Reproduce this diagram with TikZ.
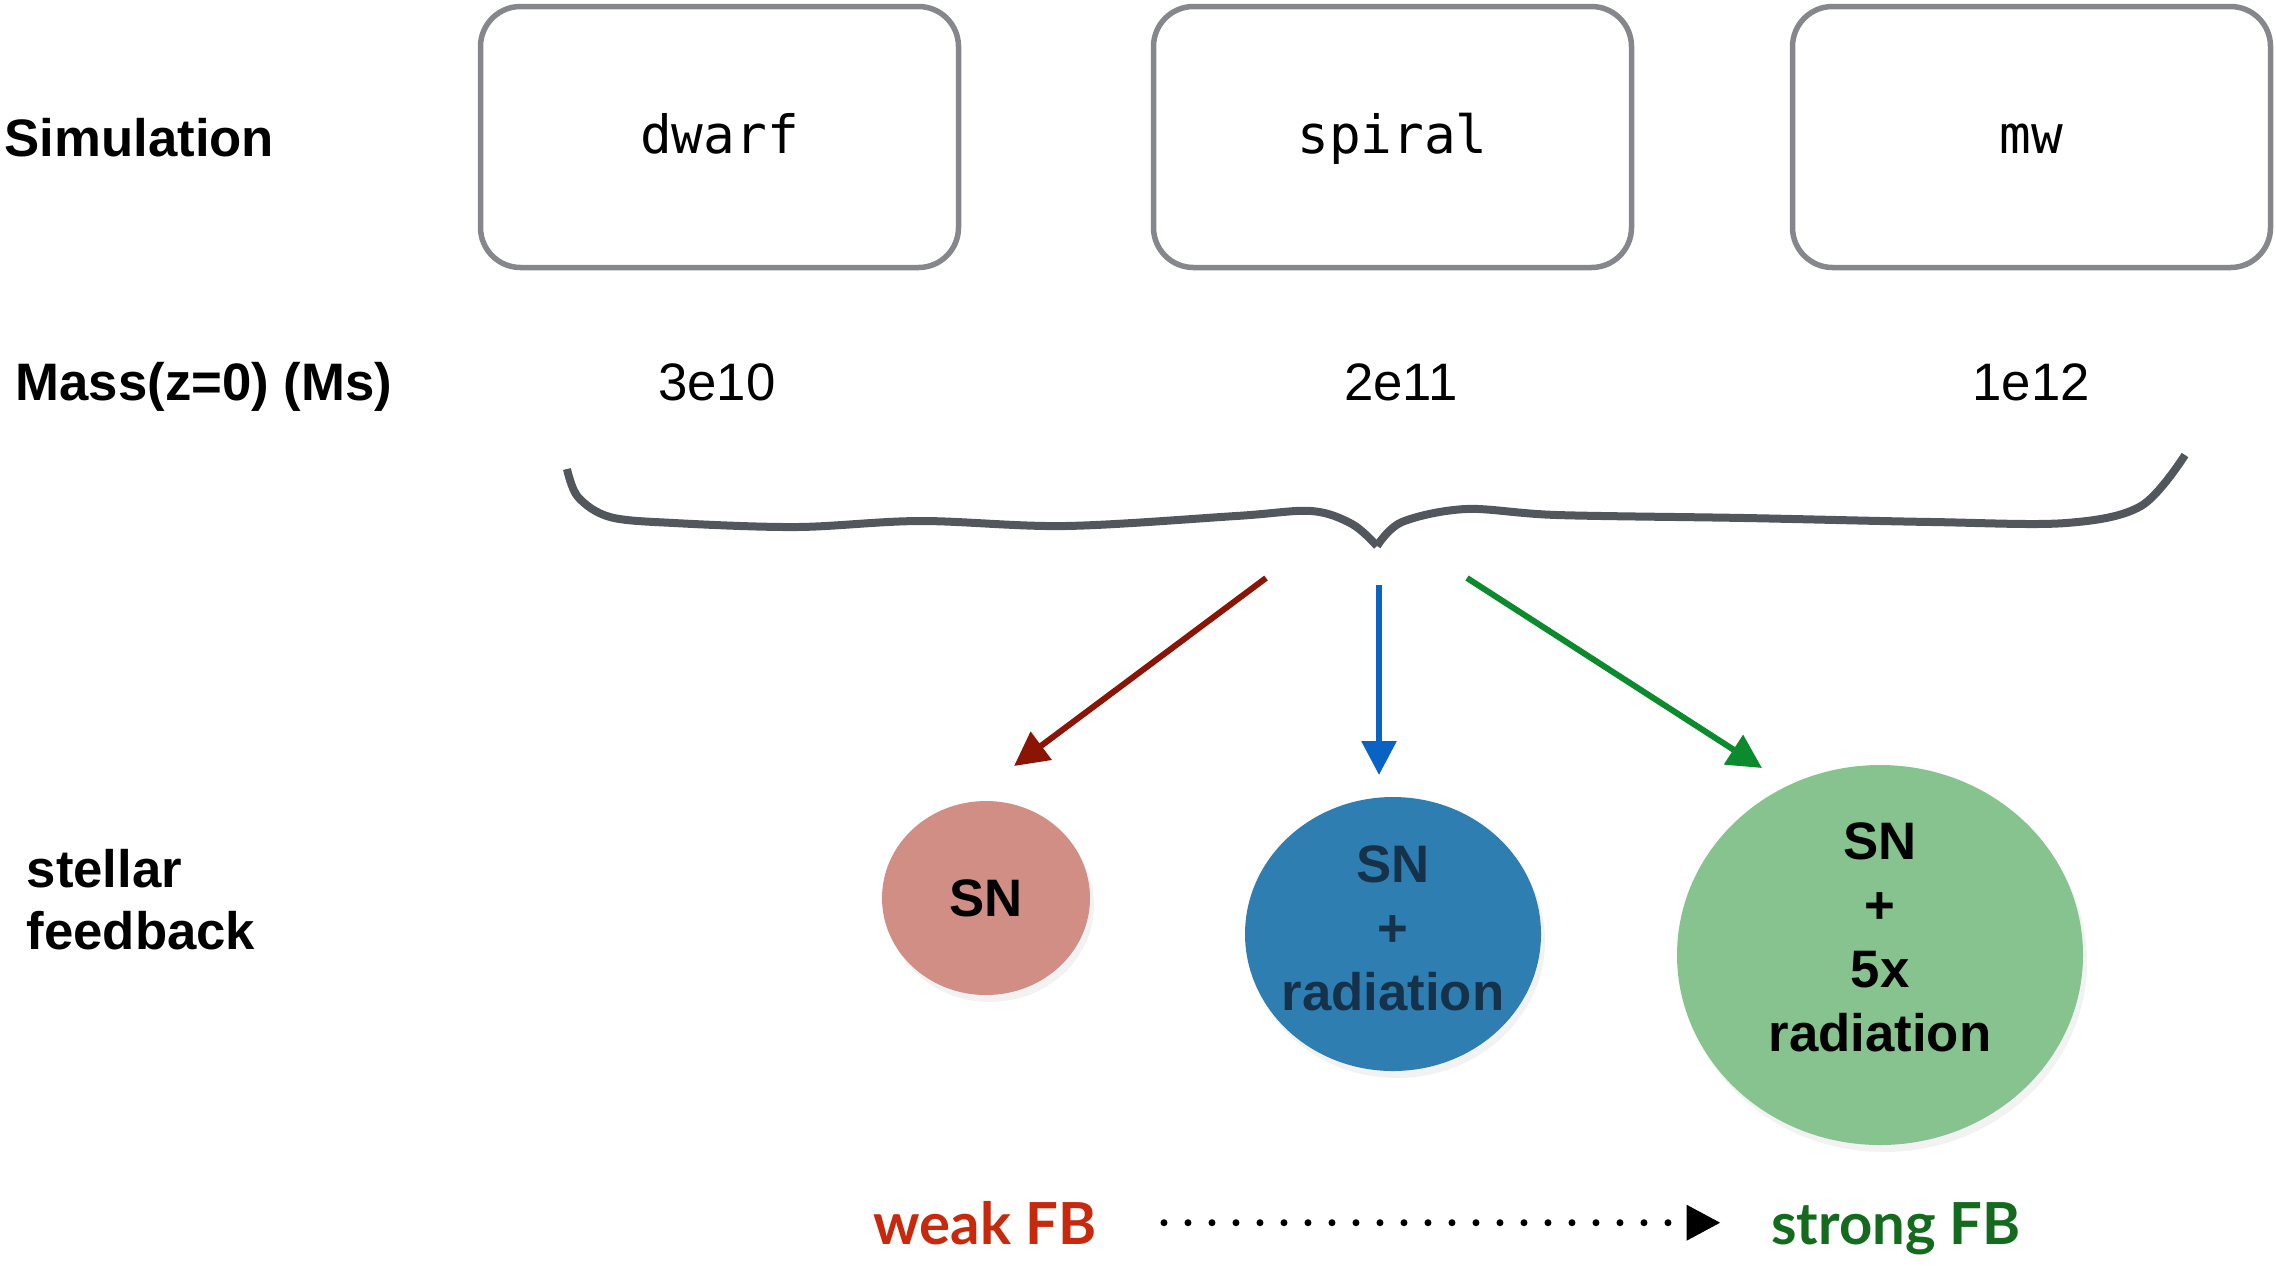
\documentclass[tikz,border=0pt]{standalone}
\usepackage{fontspec}
\setmainfont{Liberation Sans}
\setmonofont{DejaVu Sans Mono}
\newfontfamily\fbfont{Lato}
\usetikzlibrary{arrows.meta,shapes.geometric,shadows}

\definecolor{boxgray}{HTML}{86878C}
\definecolor{bracegray}{HTML}{52565D}
\definecolor{weakdisc}{HTML}{D08E85}
\definecolor{middisc}{HTML}{2F7EB1}
\definecolor{strongdisc}{HTML}{86C38F}
\definecolor{weakarrow}{HTML}{8A1505}
\definecolor{midarrow}{HTML}{0A63C4}
\definecolor{strongarrow}{HTML}{0C8A2E}
\definecolor{weakword}{HTML}{C8290C}
\definecolor{strongword}{HTML}{146B1E}
\definecolor{midtext}{HTML}{15324A}

\begin{document}
\begin{tikzpicture}[x=0.1mm, y=-0.1mm,
    simbox/.style={draw=boxgray, line width=0.55mm, rounded corners=4mm,
        minimum width=47.8mm, minimum height=26.1mm,
        text height=3.2mm, text depth=0mm,
        font=\ttfamily\fontsize{15}{18}\selectfont},
    rowlabel/.style={font=\bfseries\fontsize{15}{18}\selectfont, inner sep=0pt, align=left},
    massval/.style={font=\fontsize{15}{18}\selectfont, inner sep=0pt, anchor=base},
    fbdisc/.style={ellipse, inner sep=0pt,
        drop shadow={opacity=0.1, shadow xshift=0.4mm, shadow yshift=-0.7mm}},
    fbtext/.style={font=\bfseries\fontsize{15}{18.2}\selectfont, align=center, inner sep=0pt},
    fbarrow/.style={line width=0.6mm, -{Triangle[length=3.4mm, width=3.4mm]}},
    fbword/.style={font=\fbfont\bfseries\fontsize{16.5}{19}\selectfont, inner sep=0pt, anchor=base}]
    \useasboundingbox (0,0) rectangle (2276,1265);
    % Row labels
    \node[rowlabel, anchor=base west] (simlabel) at (4,156) {Simulation};
    \node[rowlabel, anchor=base west] (masslabel) at (15,400) {Mass(z=0) (Ms)};
    \node[rowlabel, anchor=west, text width=35mm] (fblabel) at (26,900) {stellar\\[-0.4pt]feedback};
    % Simulation boxes
    \node[simbox] (dwarf) at (719.5,137) {dwarf};
    \node[simbox] (spiral) at (1392.5,137) {spiral};
    \node[simbox] (mw) at (2031.5,137) {mw};
    % Masses
    \node[massval] (mdwarf) at (717,400) {3e10};
    \node[massval] (mspiral) at (1401,400) {2e11};
    \node[massval] (mmw) at (2031,400) {1e12};
    % Draw brace
    \draw[bracegray, line width=0.8mm] plot[smooth, tension=0.55] coordinates {
        (567,469) (578,497) (610,517) (674,523) (797,527) (920,521)
        (1065,526) (1236,516) (1311,511) (1352,524) (1377,546)};
    \draw[bracegray, line width=0.8mm] plot[smooth, tension=0.55] coordinates {
        (1377,546) (1402,522) (1466,509) (1557,515) (1745,518)
        (1932,522) (2066,523) (2141,506) (2185,455)};
    % Feedback discs
    \node[fbdisc, fill=weakdisc, minimum width=20.8mm, minimum height=19.4mm] (sn) at (986,898) {};
    \node[fbdisc, fill=middisc, minimum width=29.6mm, minimum height=27.4mm] (snrad) at (1393,934) {};
    \node[fbdisc, fill=strongdisc, minimum width=40.6mm, minimum height=38mm] (snrad5) at (1880,955) {};
    \node[fbtext] (sntext) at (sn) {SN};
    \node[fbtext, text=midtext, yshift=0.55mm] (snradtext) at (snrad) {SN\\+\\radiation};
    \node[fbtext, yshift=1.75mm] (snrad5text) at (snrad5) {SN\\+\\5x\\radiation};
    % Draw arrows
    \coordinate (weakstart) at (1266,578);
    \coordinate (weakend) at (1014,766);
    \coordinate (midstart) at (1379,585);
    \coordinate (midend) at (1379,775);
    \coordinate (strongstart) at (1467,578);
    \coordinate (strongend) at (1762,768);
    \draw[fbarrow, weakarrow] (weakstart) -- (weakend);
    \draw[fbarrow, midarrow] (midstart) -- (midend);
    \draw[fbarrow, strongarrow] (strongstart) -- (strongend);
    % Weak to strong
    \node[fbword, text=weakword] (weak) at (985,1244) {weak FB};
    \node[fbword, text=strongword] (strong) at (1896,1244) {strong FB};
    \draw[line width=0.7mm, line cap=round, dash pattern=on 0pt off 2.4mm,
        shorten <=6.7mm, shorten >=5mm, -{Triangle[length=3.4mm, width=3.4mm]}]
        (weak.east) -- (weak.east -| strong.west);
\end{tikzpicture}
\end{document}
